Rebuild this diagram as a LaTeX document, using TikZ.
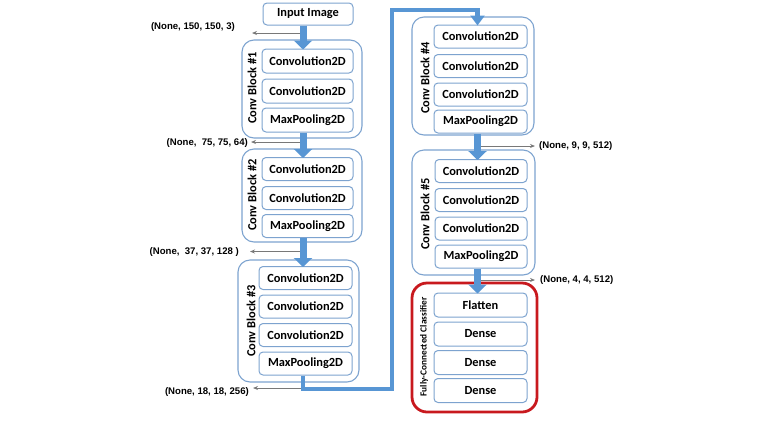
\documentclass[tikz,border=0pt]{standalone}
\usepackage{fontspec}
\setmainfont{Carlito}
\newfontfamily\lblfont{Liberation Sans}
\usetikzlibrary{arrows.meta}
\definecolor{boxblue}{RGB}{125,163,207}
\definecolor{arrowblue}{RGB}{88,150,212}
\definecolor{fcred}{RGB}{200,25,30}
\definecolor{grayline}{RGB}{120,120,120}
\tikzset{
  layerbox/.style={draw=boxblue, line width=1pt, rounded corners=4pt, fill=white,
    font=\bfseries\fontsize{12.4}{14}\selectfont, inner sep=0pt,
    minimum width=91pt, minimum height=23pt},
  blockbox/.style={draw=boxblue, line width=1.1pt, rounded corners=12pt, inner sep=0pt},
  fcbox/.style={draw=fcred, line width=2.8pt, rounded corners=15pt, inner sep=0pt},
  blocklbl/.style={rotate=90, font=\bfseries\fontsize{12.4}{14}\selectfont, inner sep=0pt},
  fclbl/.style={rotate=90, font=\bfseries\fontsize{9.3}{11}\selectfont, inner sep=0pt},
  shapelbl/.style={font=\lblfont\bfseries\fontsize{9.6}{11}\selectfont, inner sep=0pt},
  bluearrow/.style={draw=arrowblue, line width=7pt, -{Triangle[width=18pt,length=9pt]}},
  bluepath/.style={draw=arrowblue, line width=4.5pt, line join=miter,
    -{Triangle[width=14pt,length=10pt]}},
  grayarrow/.style={draw=grayline, line width=0.9pt, -{Stealth[length=5pt,width=4pt]}}
}
\begin{document}
\begin{tikzpicture}[x=1pt,y=-1pt]
\useasboundingbox (0,0) rectangle (778,421);
% axes for the blue arrows
\coordinate (axL) at (303,0);
\coordinate (axR) at (477.5,0);
% input
\node[layerbox, minimum width=90pt, minimum height=22pt] (in) at (308,14) {Input Image};
% block 1
\node[blockbox, minimum width=120pt, minimum height=98pt] (b1) at (302,89) {};
\node[layerbox, minimum height=24pt] (c11) at (307.5,61) {Convolution2D};
\node[layerbox, minimum height=24pt] (c12) at (307.5,91) {Convolution2D};
\node[layerbox, minimum height=24pt] (mp1) at (307.5,120) {MaxPooling2D};
\node[blocklbl] (l1) at (252,88) {Conv Block \#1};
% block 2
\node[blockbox, minimum width=120pt, minimum height=93pt] (b2) at (302,195.5) {};
\node[layerbox] (c21) at (307.5,169) {Convolution2D};
\node[layerbox] (c22) at (307.5,198) {Convolution2D};
\node[layerbox] (mp2) at (307.5,226) {MaxPooling2D};
\node[blocklbl] (l2) at (252,195) {Conv Block \#2};
% block 3
\node[blockbox, minimum width=121pt, minimum height=122pt] (b3) at (298.5,321) {};
\node[layerbox, minimum width=93pt] (c31) at (305.5,278) {Convolution2D};
\node[layerbox, minimum width=93pt] (c32) at (305.5,306.5) {Convolution2D};
\node[layerbox, minimum width=93pt] (c33) at (305.5,335) {Convolution2D};
\node[layerbox, minimum width=93pt] (mp3) at (305.5,363.5) {MaxPooling2D};
\node[blocklbl] (l3) at (251,321) {Conv Block \#3};
% block 4
\node[blockbox, minimum width=122pt, minimum height=118pt] (b4) at (473,76) {};
\node[layerbox, minimum width=93pt] (c41) at (480.5,36.5) {Convolution2D};
\node[layerbox, minimum width=93pt] (c42) at (480.5,66) {Convolution2D};
\node[layerbox, minimum width=93pt] (c43) at (480.5,94.5) {Convolution2D};
\node[layerbox, minimum width=93pt] (mp4) at (480.5,121.5) {MaxPooling2D};
\node[blocklbl] (l4) at (425,78) {Conv Block \#4};
% block 5
\node[blockbox, minimum width=123pt, minimum height=125pt] (b5) at (473.5,212.5) {};
\node[layerbox, minimum width=92pt] (c51) at (481,171) {Convolution2D};
\node[layerbox, minimum width=92pt] (c52) at (481,200) {Convolution2D};
\node[layerbox, minimum width=92pt] (c53) at (481,228.5) {Convolution2D};
\node[layerbox, minimum width=92pt] (mp5) at (481,256.5) {MaxPooling2D};
\node[blocklbl] (l5) at (425,214) {Conv Block \#5};
% fully connected classifier
\node[fcbox, minimum width=125pt, minimum height=129pt] (fc) at (474.5,347.5) {};
\node[layerbox, minimum width=93pt, minimum height=24pt] (fl) at (480.5,305) {Flatten};
\node[layerbox, minimum width=93pt, minimum height=24pt] (d1) at (480.5,334) {Dense};
\node[layerbox, minimum width=93pt, minimum height=24pt] (d2) at (480.5,362.5) {Dense};
\node[layerbox, minimum width=93pt, minimum height=24pt] (d3) at (480.5,390.5) {Dense};
\node[fclbl] (l6) at (424,347) {Fully-Connected Classifier};
% shape labels and gray arrows
\coordinate (g1) at (252,33);
\coordinate (g2) at (251,142);
\coordinate (g3) at (250,251.5);
\coordinate (g4) at (253,388);
\coordinate (g5) at (535,146);
\coordinate (g6) at (535,280);
\node[shapelbl, anchor=east] (s1) at (235,27.5) {(None, 150, 150, 3)};
\node[shapelbl, anchor=east] (s2) at (248,143) {(None,\ \ 75, 75, 64)};
\node[shapelbl, anchor=east] (s3) at (239,252) {(None,\ \ 37, 37, 128 )};
\node[shapelbl, anchor=east] (s4) at (249,392) {(None, 18, 18, 256)};
\node[shapelbl, anchor=west] (s5) at (539,146.5) {(None, 9, 9, 512)};
\node[shapelbl, anchor=west] (s6) at (540,280.5) {(None, 4, 4, 512)};
\draw[grayarrow] (g1 -| axL) -- (g1);
\draw[grayarrow] (g2 -| axL) -- (g2);
\draw[grayarrow] (g3 -| axL) -- (g3);
\draw[grayarrow] (g4 -| axL) -- (g4);
\draw[grayarrow] (g5 -| axR) -- (g5);
\draw[grayarrow] (g6 -| axR) -- (g6);
% blue flow arrows
\draw[bluearrow] (in.south -| axL) -- ([yshift=-1pt]c11.north -| axL);
\draw[bluearrow] (mp1.south -| axL) -- ([yshift=-1pt]c21.north -| axL);
\draw[bluearrow] (mp2.south -| axL) -- ([yshift=-1pt]c31.north -| axL);
\draw[bluearrow] (mp4.south -| axR) -- ([yshift=-1pt]c51.north -| axR);
\draw[bluearrow] (mp5.south -| axR) -- ([yshift=-1pt]fl.north -| axR);
\coordinate (p1) at (392,389);
\coordinate (p2) at (392,10);
\draw[bluepath] (mp3.south -| axL) |- (p1) -- (p2) -| ([yshift=-1pt]c41.north -| axR);
\end{tikzpicture}
\end{document}
